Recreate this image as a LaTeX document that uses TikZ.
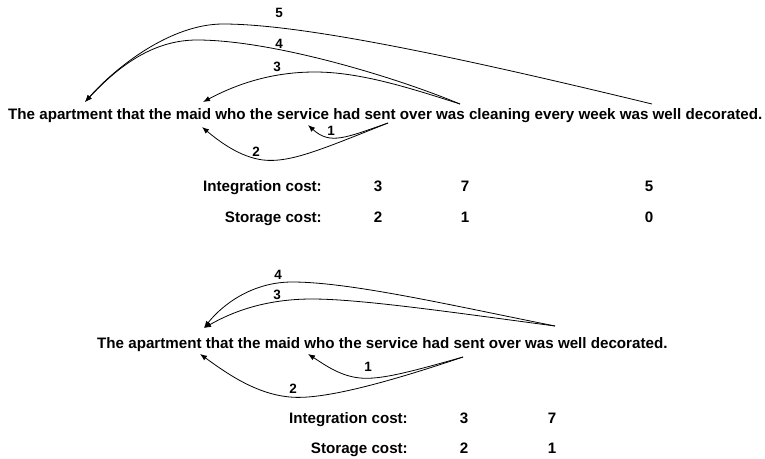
\documentclass[tikz,border=0pt]{standalone}
\usepackage{fontspec}
\setmainfont{Liberation Sans}
\usetikzlibrary{arrows.meta}

\begin{document}
\begin{tikzpicture}[x=1pt,y=-1pt,
    sent/.style={anchor=base west,inner sep=0pt,font=\fontsize{15.16}{18}\selectfont\bfseries},
    costlbl/.style={anchor=base east,inner sep=0pt,font=\fontsize{15.16}{18}\selectfont\bfseries},
    costval/.style={anchor=base,inner sep=0pt,font=\fontsize{15.16}{18}\selectfont\bfseries},
    arclbl/.style={inner sep=0pt,font=\fontsize{13.5}{15}\selectfont\bfseries},
    dep/.style={line width=.8pt,-{Latex[length=7pt,width=5.5pt]}}]
  \useasboundingbox (0,0) rectangle (765,458);
  % first sentence
  \node[sent] (sA) at (8,119) {The apartment that the maid who the service had sent over was cleaning every week was well decorated.};
  \coordinate (aptA) at (85,102);
  \coordinate (maidA) at (203,102);
  \coordinate (wasA) at (460,104);
  \coordinate (wellA) at (652,104);
  \coordinate (sentA) at (388,123);
  \coordinate (maidAb) at (308,125);
  \coordinate (aptAb) at (202,127);
  \draw[dep] (wellA) .. controls (450,55) and (300,24) .. (223,24)
                     .. controls (170,24) and (115,68) .. (aptA);
  \draw[dep] (wasA) .. controls (390,75) and (270,40) .. (197,40)
                    .. controls (150,40) and (115,70) .. (aptA);
  \draw[dep] (wasA) .. controls (410,88) and (360,72) .. (315,72)
                    .. controls (270,72) and (235,85) .. (maidA);
  \draw[dep] (sentA) .. controls (345,138) and (330,145) .. (maidAb);
  \draw[dep] (sentA) .. controls (320,150) and (290,163) .. (263,160)
                     .. controls (240,157) and (220,142) .. (aptAb);
  \node[arclbl] (l5A) at (279,13) {5};
  \node[arclbl] (l4A) at (279,44) {4};
  \node[arclbl] (l3A) at (277,67) {3};
  \node[arclbl] (l1A) at (331,131) {1};
  \node[arclbl] (l2A) at (256,152) {2};
  \node[costlbl] (icA) at (322,191) {Integration cost:};
  \node[costlbl] (scA) at (322,222) {Storage cost:};
  \node[costval] at (378,191) {3};
  \node[costval] at (465,191) {7};
  \node[costval] at (649,191) {5};
  \node[costval] at (378,222) {2};
  \node[costval] at (465,222) {1};
  \node[costval] at (649,222) {0};
  % second sentence
  \node[sent] (sB) at (97,348) {The apartment that the maid who the service had sent over was well decorated.};
  \coordinate (aptB) at (204,328);
  \coordinate (wasB) at (555,326);
  \coordinate (sentB) at (463,357);
  \coordinate (maidB) at (308,354);
  \coordinate (aptBb) at (200,354);
  \draw[dep] (wasB) .. controls (450,305) and (350,282) .. (292,282)
                    .. controls (252,282) and (222,305) .. (aptB);
  \draw[dep] (wasB) .. controls (450,312) and (360,299) .. (312,299)
                    .. controls (265,299) and (232,312) .. (aptB);
  \draw[dep] (sentB) .. controls (410,372) and (380,380) .. (360,378)
                     .. controls (340,376) and (325,365) .. (maidB);
  \draw[dep] (sentB) .. controls (380,385) and (320,400) .. (290,397)
                     .. controls (255,394) and (225,372) .. (aptBb);
  \node[arclbl] (l4B) at (278,275) {4};
  \node[arclbl] (l3B) at (277,295) {3};
  \node[arclbl] (l1B) at (368,367) {1};
  \node[arclbl] (l2B) at (293,389) {2};
  \node[costlbl] (icB) at (408,423) {Integration cost:};
  \node[costlbl] (scB) at (408,453) {Storage cost:};
  \node[costval] at (464,423) {3};
  \node[costval] at (552,423) {7};
  \node[costval] at (464,453) {2};
  \node[costval] at (552,453) {1};
\end{tikzpicture}
\end{document}
